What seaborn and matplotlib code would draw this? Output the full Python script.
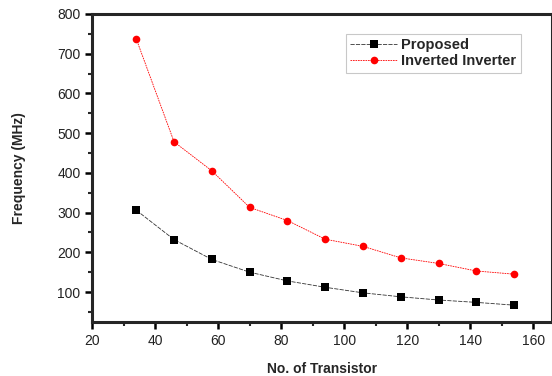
import matplotlib
matplotlib.use("Agg")
import matplotlib.pyplot as plt
from matplotlib.ticker import MultipleLocator
import seaborn as sns
import pandas as pd

transistors = [34, 46, 58, 70, 82, 94, 106, 118, 130, 142, 154]
proposed = [306, 232, 182, 150, 128, 112, 98, 88, 80, 74, 67]
inverted = [737, 478, 405, 313, 280, 233, 215, 186, 172, 153, 145]
series_names = ["Proposed", "Inverted Inverter"]

df = pd.DataFrame({
    "x": transistors * 2,
    "y": proposed + inverted,
    "series": [series_names[0]] * len(transistors) + [series_names[1]] * len(transistors),
})

sns.set_style("ticks")
plt.rcParams['font.family'] = ['Liberation Sans', 'DejaVu Sans']

fig = plt.figure(figsize=(5.52, 3.76), dpi=100)
ax = fig.add_axes([0.167, 0.144, 0.833, 0.819])

sns.lineplot(data=df, x="x", y="y", hue="series", style="series",
             palette={"Proposed": "black", "Inverted Inverter": "#ff0000"},
             markers={"Proposed": "s", "Inverted Inverter": "o"},
             dashes={"Proposed": (5, 1.5), "Inverted Inverter": (2, 1)},
             markersize=5.5, linewidth=0.6, markeredgewidth=0, ax=ax)
for ln in ax.lines:
    if ln.get_color() in ("black", "k"):
        ln.set_color("#333333")
        ln.set_markerfacecolor("black")

ax.set_xlim(20, 166)
ax.xaxis.set_major_locator(MultipleLocator(20))
ax.xaxis.set_minor_locator(MultipleLocator(10))
ax.yaxis.set_major_locator(MultipleLocator(100))
ax.yaxis.set_minor_locator(MultipleLocator(50))
ax.set_ylim(25, 800)

for s in ax.spines.values():
    s.set_linewidth(2.2)
    s.set_visible(True)
ax.tick_params(which="major", direction="out", length=5, width=1.8, labelsize=10, color="black", labelcolor="#222222")
ax.tick_params(which="minor", direction="out", length=3, width=1.5)
ax.tick_params(axis="y", which="both", left=True, right=False)
ax.tick_params(axis="x", which="both", bottom=True, top=False)

ax.set_xlabel("No. of Transistor", fontsize=10, fontweight="bold", labelpad=10)
ax.set_ylabel("Frequency (MHz)", fontsize=10, fontweight="bold", labelpad=22)

leg = ax.legend(loc="upper left", bbox_to_anchor=(0.552, 0.935), frameon=True, fancybox=False,
                edgecolor="#bbbbbb", fontsize=10.5, handlelength=3.2, borderpad=0.3,
                labelspacing=0.15, handletextpad=0.3, borderaxespad=0)
for t in leg.get_texts():
    t.set_fontweight("bold")
leg.get_frame().set_linewidth(0.8)

fig.savefig("out.png", dpi=100)
